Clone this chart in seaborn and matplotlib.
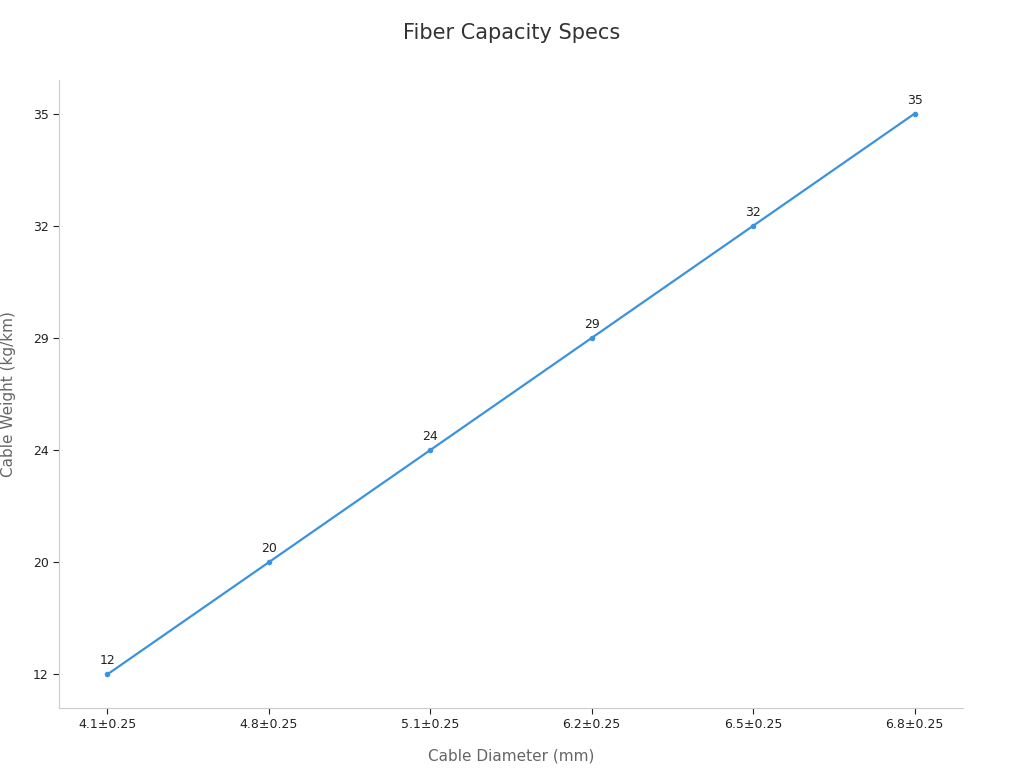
import matplotlib
matplotlib.use("Agg")
import matplotlib.pyplot as plt
import seaborn as sns
import pandas as pd

diameters = ["4.1±0.25", "4.8±0.25", "5.1±0.25", "6.2±0.25", "6.5±0.25", "6.8±0.25"]
weights = [12, 20, 24, 29, 32, 35]

sns.set_theme(style="white")
plt.rcParams['font.family'] = ['DejaVu Sans']

df = pd.DataFrame({"x": range(len(diameters)), "y": range(len(weights))})
fig = plt.figure(figsize=(10.24, 7.68), dpi=100)
ax = fig.add_axes([59/1024, 1-708/768, (963-59)/1024, (708-80)/768])
color = "#3b93e0"
sns.lineplot(data=df, x="x", y="y", ax=ax, color=color, linewidth=1.6,
             marker="o", markersize=4, markeredgewidth=0)
for i, w in enumerate(weights):
    ax.annotate(str(w), (i, i), xytext=(0, 5), textcoords="offset points",
                ha="center", va="bottom", fontsize=9, color="#222222")
ax.set_xlim(-0.3, len(diameters) - 0.7)
ax.set_ylim(-0.3, len(weights) - 0.7)
ax.set_xticks(range(len(diameters)))
ax.set_xticklabels(diameters)
ax.set_yticks(range(len(weights)))
ax.set_yticklabels([str(w) for w in weights])
ax.tick_params(axis="both", labelsize=9, colors="#222222", length=4, width=0.8,
               bottom=True, left=True)
for t in ax.get_xticklines() + ax.get_yticklines():
    t.set_color("#888888")
for s in ["top", "right"]:
    ax.spines[s].set_visible(False)
for s in ["left", "bottom"]:
    ax.spines[s].set_color("#cccccc")
    ax.spines[s].set_linewidth(0.8)
ax.set_xlabel("Cable Diameter (mm)", fontsize=11, color="#666666", labelpad=12)
ax.set_ylabel("Cable Weight (kg/km)", fontsize=11, color="#666666", labelpad=12)
fig.text(0.5, 1-33/768, "Fiber Capacity Specs", ha="center", va="center",
         fontsize=15, color="#333333")
fig.savefig("out.png", dpi=100)
